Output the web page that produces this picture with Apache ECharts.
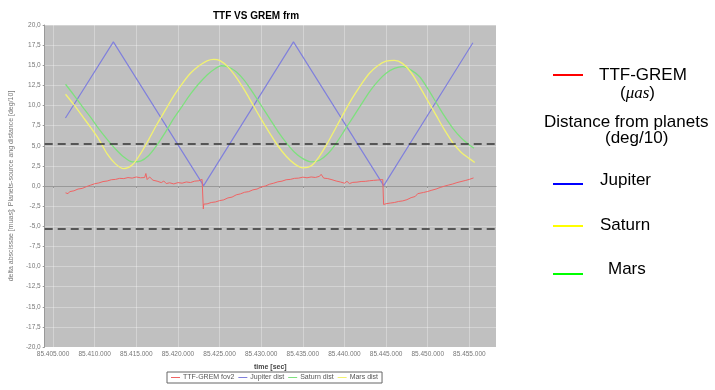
<!DOCTYPE html>
<html>
<head>
<meta charset="utf-8">
<script src="https://cdn.jsdelivr.net/npm/echarts@6/dist/echarts.min.js"></script>
<style>
  html, body { margin: 0; padding: 0; background: #fff; }
  #chart { width: 715px; height: 390px; }
</style>
</head>
<body>
<div id="chart"></div>
<script>
// x ticks (time in sec)
const xTicks = [85405000, 85410000, 85415000, 85420000, 85425000, 85430000,
  85435000, 85440000, 85445000, 85450000, 85455000]

// TTF-GREM fov2 (muas)
const ttfTime = [
  85406500, 85406800, 85407000, 85407500, 85408000, 85408500, 85409000, 85409500,
  85410000, 85410500, 85411000, 85411500, 85412000, 85412500, 85413000, 85413500,
  85414000, 85414500, 85415000, 85415500, 85416000, 85416150, 85416300, 85416600,
  85417000, 85417500, 85418000, 85418300, 85418600, 85419000, 85419500, 85420000,
  85420500, 85421000, 85421500, 85422000, 85422500, 85422900, 85423000, 85423050,
  85423100, 85423500, 85424000, 85424500, 85425000, 85425500, 85426000, 85426500,
  85427000, 85427500, 85428000, 85428500, 85429000, 85429500, 85430000, 85430500,
  85431000, 85431500, 85432000, 85432500, 85433000, 85433500, 85434000, 85434500,
  85435000, 85435500, 85436000, 85436500, 85437000, 85437200, 85437500, 85438000,
  85438500, 85439000, 85439500, 85440000, 85440300, 85440600, 85441000, 85441500,
  85442000, 85442500, 85443000, 85443500, 85444000, 85444600, 85444700, 85445000,
  85445500, 85446000, 85446500, 85447000, 85447500, 85448000, 85448500, 85448800,
  85449000, 85449500, 85450000, 85450500, 85451000, 85451500, 85452000, 85452500,
  85453000, 85453500, 85454000, 85454500, 85455000, 85455500
]
const ttfValues = [
  -0.85, -0.95, -0.7, -0.6, -0.38, -0.3, -0.08, 0.1,
  0.28, 0.38, 0.55, 0.62, 0.78, 0.82, 0.95, 0.92,
  1.05, 0.98, 1.12, 1.02, 1.05, 1.55, 0.8, 1.12,
  0.72, 0.6, 0.42, 0.62, 0.3, 0.4, 0.26, 0.42,
  0.35, 0.5, 0.43, 0.6, 0.65, 0.82, 0.6, -2.85,
  -2.25, -2.22, -2.05, -1.98, -1.82, -1.72, -1.48, -1.38,
  -1.1, -0.98, -0.78, -0.7, -0.48, -0.38, -0.12, 0.0,
  0.22, 0.35, 0.52, 0.6, 0.78, 0.82, 0.95, 0.98,
  1.1, 1.02, 1.12, 1.06, 1.2, 1.45, 0.98, 0.92,
  0.78, 0.62, 0.5, 0.35, 0.58, 0.3, 0.45, 0.48,
  0.56, 0.58, 0.65, 0.7, 0.74, 0.8, -2.3, -2.2,
  -2.12, -2.05, -1.92, -1.85, -1.7, -1.45, -1.3, -0.95,
  -1.05, -0.8, -0.68, -0.52, -0.38, -0.18, -0.02, 0.12,
  0.25, 0.42, 0.55, 0.68, 0.82, 1.0
]

// Jupiter dist (deg/10)
const jupiterTime = [85406490, 85412245, 85423085, 85433875, 85444715, 85455425]
const jupiterValues = [8.45, 17.9, 0.05, 17.9, 0.05, 17.8]

// Saturn dist (green)
const saturnTime = [
  85406500, 85407500, 85408500, 85409500, 85410500, 85411500, 85412500, 85413500,
  85414500, 85415500, 85416500, 85417500, 85418500, 85419500, 85420500, 85421500,
  85422500, 85423500, 85424500, 85425200, 85426000, 85427000, 85428000, 85429000,
  85430000, 85431000, 85432000, 85433000, 85434000, 85435000, 85436000, 85437000,
  85438000, 85439000, 85440000, 85441000, 85442000, 85443000, 85444000, 85445000,
  85446000, 85447000, 85448000, 85449000, 85450000, 85451000, 85452000, 85453000,
  85454000, 85455000, 85455550
]
const saturnValues = [
  12.64, 11.3, 9.9, 8.55, 7.1, 5.8, 4.6, 3.6,
  3.0, 3.1, 3.8, 5.1, 6.7, 8.4, 9.9, 11.4,
  12.7, 13.8, 14.6, 14.94, 14.8, 14.2, 13.1, 11.6,
  10.0, 8.4, 6.8, 5.4, 4.2, 3.4, 3.0, 3.2,
  4.0, 5.3, 6.9, 8.5, 10.1, 11.7, 13.0, 14.0,
  14.6, 14.82, 14.4, 13.6, 12.1, 10.4, 8.7, 7.2,
  6.0, 5.1, 4.71
]

// Mars dist (yellow)
const marsTime = [
  85406500, 85407500, 85408500, 85409500, 85410500, 85411500, 85412500, 85413500,
  85414500, 85415500, 85416500, 85417500, 85418500, 85419500, 85420500, 85421500,
  85422500, 85423500, 85424300, 85425000, 85426000, 85427000, 85428000, 85429000,
  85430000, 85431000, 85432000, 85433000, 85434000, 85435000, 85436000, 85437000,
  85438000, 85439000, 85440000, 85441000, 85442000, 85443000, 85444000, 85445000,
  85446000, 85447000, 85448000, 85449000, 85450000, 85451000, 85452000, 85453000,
  85454000, 85455000, 85455650
]
const marsValues = [
  11.4, 10.1, 8.7, 7.3, 5.8, 4.0, 2.75, 2.15,
  2.6, 4.0, 5.8, 7.7, 9.45, 11.2, 12.7, 14.0,
  14.9, 15.55, 15.74, 15.6, 14.8, 13.5, 11.9, 10.1,
  8.3, 6.6, 5.0, 3.7, 2.75, 2.25, 2.5, 3.7,
  5.4, 7.3, 9.2, 11.0, 12.6, 14.0, 14.95, 15.5,
  15.6, 15.2, 14.1, 12.4, 10.6, 8.8, 7.0, 5.4,
  4.2, 3.4, 2.92
]

// dashed reference levels
const limitLevels = [5.2, -5.3]

const zip = (t, v) => t.map((x, i) => [x, v[i]])

const chart = echarts.init(document.getElementById('chart'))

const lineBase = {
  type: 'line',
  showSymbol: false,
  symbol: 'none',
  silent: true,
  animation: false
}

const option = {
  backgroundColor: '#fff',
  textStyle: { fontFamily: 'Liberation Sans' },
  title: {
    text: 'TTF VS GREM frm',
    left: 251,
    top: 6,
    textAlign: 'center',
    textStyle: { fontSize: 10, fontWeight: 'bold', color: '#000', fontFamily: 'Liberation Sans' }
  },
  legend: {
    data: ['TTF-GREM fov2', 'Jupiter dist', 'Saturn dist', 'Mars dist'],
    left: 167,
    top: 372,
    padding: [2, 4],
    borderColor: '#666',
    borderWidth: 1,
    borderRadius: 0,
    itemWidth: 9,
    itemHeight: 1,
    itemGap: 4,
    icon: 'rect',
    textStyle: { fontSize: 7, color: '#555', padding: [0, 0, 0, -2] }
  },
  grid: {
    left: 37,
    right: 219,
    top: 25,
    bottom: 43,
    show: true,
    backgroundColor: '#c0c0c0',
    borderWidth: 0
  },
  xAxis: {
    type: 'value',
    min: 85404000,
    max: 85458200,
    name: 'time [sec]',
    nameLocation: 'middle',
    nameGap: 17,
    nameTextStyle: { fontSize: 7, fontWeight: 'bold', color: '#444' },
    axisLine: { lineStyle: { color: '#999' } },
    axisTick: { length: 2, customValues: xTicks, lineStyle: { color: '#999' } },
    axisLabel: {
      customValues: xTicks,
      fontSize: 6.5,
      color: '#777',
      margin: 4,
      formatter: v => Math.round(v).toString().replace(/\B(?=(\d{3})+(?!\d))/g, '.')
    },
    splitLine: { show: true, lineStyle: { color: 'rgba(255,255,255,0.3)', width: 1 } }
  },
  yAxis: {
    type: 'value',
    min: -20,
    max: 20,
    interval: 2.5,
    name: 'delta abscissae [muas]; Planets-source ang distance [deg/10]',
    nameLocation: 'middle',
    nameGap: 25,
    nameTextStyle: { fontSize: 7, color: '#777' },
    axisLine: { show: true, lineStyle: { color: '#999' } },
    axisTick: { show: true, length: 2, lineStyle: { color: '#999' } },
    axisLabel: {
      fontSize: 6.5,
      color: '#777',
      margin: 4,
      formatter: v => v.toFixed(1).replace('.', ',')
    },
    splitLine: { show: true, lineStyle: { color: 'rgba(255,255,255,0.3)', width: 1 } }
  },
  series: [
    {
      ...lineBase,
      name: 'TTF-GREM fov2',
      data: zip(ttfTime, ttfValues),
      itemStyle: { color: '#f06464' },
      lineStyle: { color: '#f06464', width: 1 },
      z: 4,
      markLine: {
        silent: true,
        symbol: 'none',
        label: { show: false },
        lineStyle: { color: '#333', type: [8, 5], width: 1.5 },
        data: limitLevels.map(v => ({ yAxis: v }))
      }
    },
    {
      ...lineBase,
      name: 'Jupiter dist',
      data: zip(jupiterTime, jupiterValues),
      itemStyle: { color: '#8080dc' },
      lineStyle: { color: '#8080dc', width: 1.2 },
      z: 3
    },
    {
      ...lineBase,
      name: 'Saturn dist',
      data: zip(saturnTime, saturnValues),
      smooth: 0.3,
      itemStyle: { color: '#7ee07e' },
      lineStyle: { color: '#7ee07e', width: 1.3 },
      z: 3
    },
    {
      ...lineBase,
      name: 'Mars dist',
      data: zip(marsTime, marsValues),
      smooth: 0.3,
      itemStyle: { color: '#f2f270' },
      lineStyle: { color: '#f2f270', width: 1.3 },
      z: 3
    }
  ],
  graphic: [
    { type: 'line', shape: { x1: 553, y1: 75, x2: 583, y2: 75 }, style: { stroke: '#ff0000', lineWidth: 2 } },
    { type: 'text', left: 599, top: 67, style: { text: 'TTF-GREM', font: '17px Liberation Sans', fill: '#000' } },
    {
      type: 'text', left: 620, top: 85,
      style: {
        text: '({i|μas})',
        font: '17px Liberation Sans',
        fill: '#000',
        rich: { i: { fontStyle: 'italic', fontFamily: 'Liberation Serif', fontSize: 17 } }
      }
    },
    { type: 'text', left: 544, top: 114, style: { text: 'Distance from planets', font: '17px Liberation Sans', fill: '#000' } },
    { type: 'text', left: 605, top: 130, style: { text: '(deg/10)', font: '17px Liberation Sans', fill: '#000' } },
    { type: 'line', shape: { x1: 553, y1: 184, x2: 583, y2: 184 }, style: { stroke: '#0000ff', lineWidth: 2 } },
    { type: 'text', left: 600, top: 172, style: { text: 'Jupiter', font: '17px Liberation Sans', fill: '#000' } },
    { type: 'line', shape: { x1: 553, y1: 226, x2: 583, y2: 226 }, style: { stroke: '#ffff00', lineWidth: 2 } },
    { type: 'text', left: 600, top: 217, style: { text: 'Saturn', font: '17px Liberation Sans', fill: '#000' } },
    { type: 'line', shape: { x1: 553, y1: 274, x2: 583, y2: 274 }, style: { stroke: '#00ff00', lineWidth: 2 } },
    { type: 'text', left: 608, top: 261, style: { text: 'Mars', font: '17px Liberation Sans', fill: '#000' } }
  ]
}

chart.setOption(option)
</script>
</body>
</html>
